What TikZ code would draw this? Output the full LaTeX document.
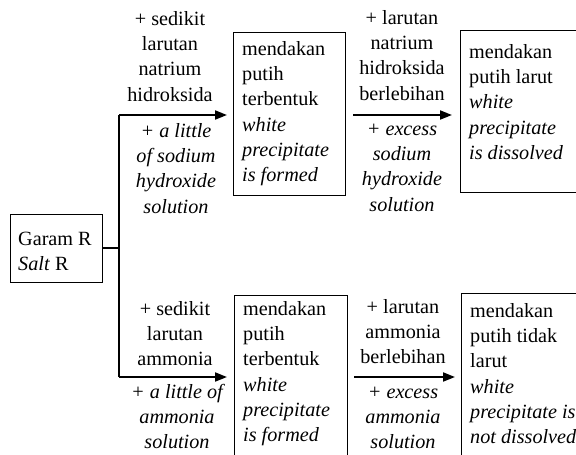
\documentclass[tikz,border=0pt]{standalone}
\usepackage{fontspec}
\setmainfont{Liberation Serif}
\usetikzlibrary{arrows.meta}
\tikzset{
  boxnode/.style={draw, line width=1.2pt, rectangle, inner sep=0pt, anchor=north west},
  txt/.style={inner sep=0pt, anchor=north, align=center, font=\fontsize{20.2}{25.3}\selectfont},
  txti/.style={txt, font=\fontsize{20.2}{25.3}\selectfont\itshape},
  txtl/.style={inner sep=0pt, anchor=north west, align=left, font=\fontsize{20.2}{25.3}\selectfont},
  flow/.style={line width=1.8pt, -{Triangle[length=12pt,width=9pt]}},
  link/.style={line width=1.6pt},
}
\begin{document}
\begin{tikzpicture}[x=1pt,y=-1pt]
\clip (0,0) rectangle (576,455);
\fill[white] (0,0) rectangle (576,455);
% boxes
\node[boxnode, minimum width=92pt, minimum height=68pt] (g) at (10,214) {};
\node[boxnode, minimum width=112pt, minimum height=163pt] (m1) at (233,32) {};
\node[boxnode, minimum width=140pt, minimum height=162pt] (r1) at (460,30) {};
\node[boxnode, minimum width=113pt, minimum height=180pt] (m2) at (234,295) {};
\node[boxnode, minimum width=140pt, minimum height=180pt] (r2) at (461,293) {};
% junctions
\coordinate (jt) at (119,115);
\coordinate (jb) at (119,377);
\coordinate (jm) at (119,248);
% connectors
\draw[link] (g.east |- jm) -- (jm);
\draw[link] (jt) -- (jb);
\draw[flow, shorten >=6pt] (jt) -- (jt -| m1.west);
\draw[flow, shorten >=7pt] (jb) -- (jb -| m2.west);
\draw[flow, shorten <=7pt, shorten >=8pt] (m1.east |- jt) -- (r1.west |- jt);
\draw[flow, shorten <=6pt, shorten >=6pt] (m2.east |- jb) -- (r2.west |- jb);
% texts in boxes
\node[txtl] (tg) at (18,227.3) {\strut Garam R\\\textit{Salt} R};
\node[txtl] (tm1) at (242,37.3) {\strut mendakan\\putih\\terbentuk\\\textit{white}\\\textit{precipitate}\\\textit{is formed}};
\node[txtl] (tr1) at (469,40.3) {\strut mendakan\\putih larut\\\textit{white}\\\textit{precipitate}\\\textit{is dissolved}};
\node[txtl] (tm2) at (243,297.3) {\strut mendakan\\putih\\terbentuk\\\textit{white}\\\textit{precipitate}\\\textit{is formed}};
\node[txtl] (tr2) at (470,299.3) {\strut mendakan\\putih tidak\\larut\\\textit{white}\\\textit{precipitate is}\\\textit{not dissolved}};
% arrow labels
\node[txt] (a1) at (170,7.3) {\strut + sedikit\\larutan\\natrium\\hidroksida};
\node[txti] (b1) at (176,119.3) {\strut + a little\\of sodium\\hydroxide\\solution};
\node[txt] (a2) at (402,6.3) {\strut + larutan\\natrium\\hidroksida\\berlebihan};
\node[txti] (b2) at (402,117.3) {\strut + excess\\sodium\\hydroxide\\solution};
\node[txt] (a3) at (175,297.3) {\strut + sedikit\\larutan\\ammonia};
\node[txti] (b3) at (177,380.3) {\strut + a little of\\ammonia\\solution};
\node[txt] (a4) at (403,295.3) {\strut + larutan\\ammonia\\berlebihan};
\node[txti] (b4) at (403,380.3) {\strut + excess\\ammonia\\solution};
\end{tikzpicture}
\end{document}
